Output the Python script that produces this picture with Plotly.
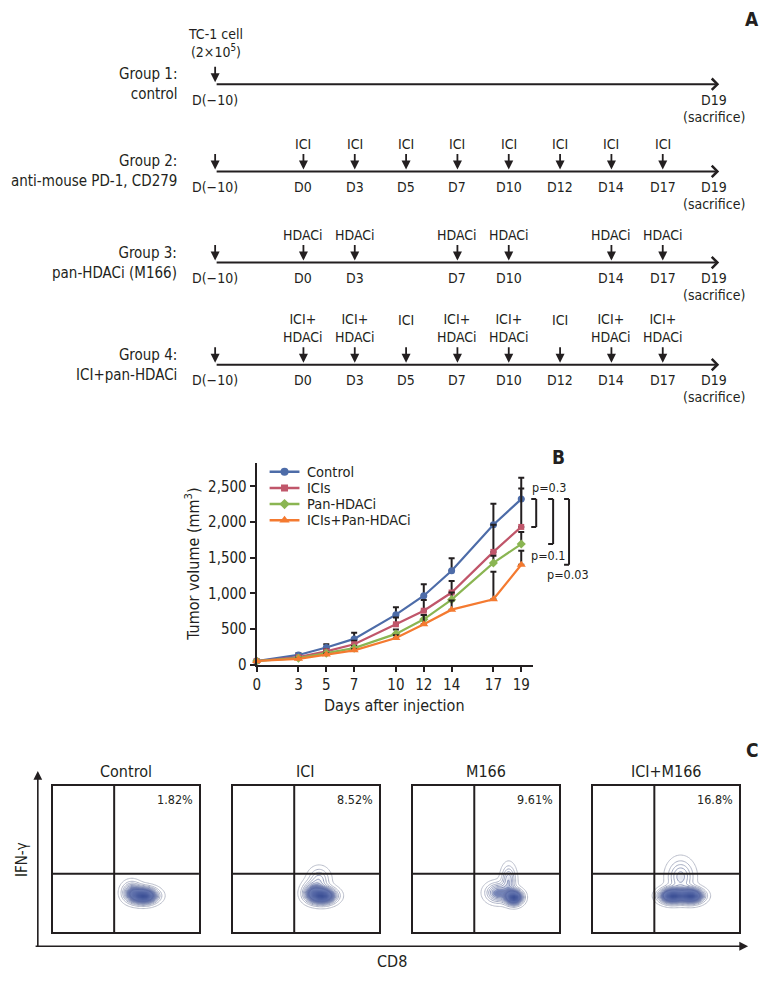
import numpy as np
import plotly.graph_objects as go

W, H = 767, 985
FONT = "Liberation Sans Narrow, Arial Narrow, DejaVu Sans Condensed, sans-serif"
TXT = "#231f20"


def px(x):
    return x / W


def py(y):
    return 1 - y / H


# ---------------- Panel A data ----------------
timeline_labels = ["D(−10)", "D0", "D3", "D5", "D7", "D10", "D12", "D14", "D17", "D19"]
group_titles = ["Group 1:<br>control", "Group 2:<br>anti-mouse PD-1, CD279",
                "Group 3:<br>pan-HDACi (M166)", "Group 4:<br>ICI+pan-HDACi"]
g1_treatments = {"D(−10)": "TC-1 cell<br>(2×10<sup>5</sup>)"}
g2_treatments = {"D0": "ICI", "D3": "ICI", "D5": "ICI", "D7": "ICI",
                 "D10": "ICI", "D12": "ICI", "D14": "ICI", "D17": "ICI"}
g3_treatments = {"D0": "HDACi", "D3": "HDACi", "D7": "HDACi",
                 "D10": "HDACi", "D14": "HDACi", "D17": "HDACi"}
g4_treatments = {"D0": "ICI+<br>HDACi", "D3": "ICI+<br>HDACi", "D5": "ICI",
                 "D7": "ICI+<br>HDACi", "D10": "ICI+<br>HDACi", "D12": "ICI",
                 "D14": "ICI+<br>HDACi", "D17": "ICI+<br>HDACi"}
group_treatments = [g1_treatments, g2_treatments, g3_treatments, g4_treatments]
end_note = "(sacrifice)"

# ---------------- Panel B data ----------------
days = [0, 3, 5, 7, 10, 12, 14, 17, 19]
series_names = ["Control", "ICIs", "Pan-HDACi", "ICIs+Pan-HDACi"]
control_vol = [50, 135, 240, 360, 700, 965, 1315, 1960, 2320]
icis_vol = [50, 105, 185, 285, 565, 755, 1010, 1580, 1930]
pan_vol = [50, 90, 160, 230, 430, 635, 910, 1425, 1690]
combo_vol = [50, 80, 140, 200, 372, 565, 770, 915, 1400]
control_err = [0, 25, 45, 85, 105, 160, 175, 295, 150]
icis_err = [0, 20, 30, 50, 95, 150, 160, 380, 690]
pan_err = [0, 15, 20, 30, 60, 60, 100, 100, 170]
combo_err = [0, 10, 15, 20, 40, 130, 130, 385, 195]
y_ticks = [0, 500, 1000, 1500, 2000, 2500]
p_labels = ["p=0.3", "p=0.1", "p=0.03"]

# ---------------- Panel C data ----------------
flow_titles = ["Control", "ICI", "M166", "ICI+M166"]
flow_pcts = ["1.82%", "8.52%", "9.61%", "16.8%"]
gate_x, gate_y = 0.42, 0.40
# blob components: (cx, cy, sx, sy, weight)
flow_blobs = [
    [(0.62, 0.25, 0.055, 0.032, 1.0), (0.54, 0.28, 0.04, 0.04, 0.3)],
    [(0.61, 0.25, 0.055, 0.033, 1.0), (0.54, 0.28, 0.04, 0.04, 0.3), (0.59, 0.36, 0.045, 0.05, 0.2)],
    [(0.69, 0.24, 0.035, 0.03, 1.0), (0.58, 0.27, 0.05, 0.04, 0.35), (0.655, 0.36, 0.03, 0.06, 0.25)],
    [(0.54, 0.25, 0.05, 0.03, 0.9), (0.67, 0.25, 0.05, 0.03, 0.9), (0.60, 0.38, 0.055, 0.07, 0.22)],
]

series_values = [control_vol, icis_vol, pan_vol, combo_vol]
series_errors = [control_err, icis_err, pan_err, combo_err]
series_colors = ["#4d6ca8", "#c0566a", "#8ab552", "#f47a30"]
series_symbols = ["circle", "square", "diamond", "triangle-up"]
series_msize = [7, 6, 7, 8]

fig = go.Figure()
ann = []
shapes = []


def text_ann(x, y, text, size=14, xanchor="center", yanchor="middle", **kw):
    d = dict(x=x, y=y, text=text, showarrow=False, xanchor=xanchor, yanchor=yanchor,
             font=dict(size=size, color=TXT, family=FONT))
    d.update(kw)
    d.setdefault("xref", "paper")
    d.setdefault("yref", "paper")
    return d


# ================= Panel A =================
ROW_Y = [85, 173, 265, 368]
LABEL_BOTTOM = [-22, -18, -18, -18]
SLOT0 = 301.0
SLOT_W = 51.6
START_SLOT = -1.72
x2_range = [(0 - SLOT0) / SLOT_W, (W - SLOT0) / SLOT_W]


def slot_of(label):
    i = timeline_labels.index(label)
    return START_SLOT if i == 0 else i - 1


fig.add_trace(go.Scatter(x=[], y=[], xaxis="x2", yaxis="y2", showlegend=False))

for g, (title, treat) in enumerate(zip(group_titles, group_treatments)):
    ly = ROW_Y[g]
    ann.append(text_ann(px(176), ly, title, size=15, xanchor="right", yref="y2", align="right"))
    # main arrow
    ann.append(dict(x=slot_of("D19") + 0.1, y=ly, ax=slot_of("D(−10)"), ay=ly, xref="x2", yref="y2",
                    axref="x2", ayref="y2", text="", showarrow=True, arrowhead=4, arrowsize=1.1,
                    arrowwidth=2, arrowcolor=TXT))
    shown = ["D(−10)"] + [d for d in timeline_labels if d in treat and d != "D(−10)"] + ["D19"]
    for d in shown:
        ann.append(text_ann(slot_of(d), ly + 16, d, size=14, xref="x2", yref="y2"))
    ann.append(text_ann(slot_of("D19"), ly + 33, end_note, size=14, xref="x2", yref="y2"))
    arrows = ["D(−10)"] + [d for d in timeline_labels if d in treat and d != "D(−10)"]
    nmax = max([t.count("<br>") + 1 for t in treat.values()]) if treat else 1
    for d in arrows:
        ann.append(dict(x=slot_of(d), y=ly - 2, xref="x2", yref="y2", text="", showarrow=True,
                        ax=0, ay=-17, arrowhead=2, arrowsize=1.0, arrowwidth=1.8, arrowcolor=TXT))
        if d in treat:
            t = treat[d]
            nl = t.count("<br>") + 1
            ann.append(text_ann(slot_of(d), ly + LABEL_BOTTOM[g], t, size=14, yanchor="bottom",
                                xref="x2", yref="y2", yshift=(nmax - nl) * 17))

ann.append(text_ann(px(752), py(19), "<b>A</b>", size=19))

# ================= Panel B =================
for name, vals, errs, color, sym, ms in zip(series_names, series_values, series_errors,
                                            series_colors, series_symbols, series_msize):
    fig.add_trace(go.Scatter(
        x=days, y=vals, mode="lines+markers", name=name, showlegend=False, cliponaxis=False,
        line=dict(color=color, width=2.2), marker=dict(symbol=sym, size=ms, color=color),
        error_y=dict(type="data", array=errs, arrayminus=[0] * len(errs), symmetric=False,
                     color=TXT, thickness=2, width=3),
        xaxis="x", yaxis="y"))

# manual legend
for i, (name, color, sym, ms) in enumerate(zip(series_names, series_colors, series_symbols, series_msize)):
    fig.add_trace(go.Scatter(x=[5, 35], y=[i, i], mode="lines", line=dict(color=color, width=2.5),
                             xaxis="x7", yaxis="y7", showlegend=False, hoverinfo="skip"))
    fig.add_trace(go.Scatter(x=[20], y=[i], mode="markers", marker=dict(symbol=sym, size=ms + 1, color=color),
                             xaxis="x7", yaxis="y7", showlegend=False, hoverinfo="skip"))
    ann.append(text_ann(42, i, name, size=14.5, xanchor="left", xref="x7", yref="y7", borderpad=0))

# brackets
ends = [icis_vol[-1], pan_vol[-1], combo_vol[-1]]
bx = [535, 552, 568]
for k, (b, e) in enumerate(zip(bx, ends)):
    top = control_vol[-1]
    shapes.append(dict(type="line", xref="paper", yref="y", x0=px(b), x1=px(b), y0=top, y1=e,
                       line=dict(color=TXT, width=2)))
    for yy in (top, e):
        shapes.append(dict(type="line", xref="paper", yref="y", x0=px(b - 5), x1=px(b), y0=yy, y1=yy,
                           line=dict(color=TXT, width=2)))
ann.append(text_ann(px(529), control_vol[-1], p_labels[0], size=12.5, xanchor="left", yref="y", yshift=12))
ann.append(text_ann(px(547), pan_vol[-1], p_labels[1], size=12.5, yref="y", yshift=-11))
ann.append(text_ann(px(567), combo_vol[-1], p_labels[2], size=12.5, yref="y", yshift=-10))

ann.append(text_ann(px(190), py(570), "Tumor volume (mm<sup>3</sup>)", size=16, textangle=-90))
ann.append(text_ann(px(393), py(712), "Days after injection", size=16))
ann.append(text_ann(px(557), py(461), "<b>B</b>", size=19))

# ================= Panel C =================
grid = np.linspace(0, 1, 121)
GX, GY = np.meshgrid(grid, grid)
BOX_L = [49, 230, 411, 592]
BOX_W = 147
BOX_TOP, BOX_BOT = 793, 941

for k in range(4):
    ax_id = k + 3
    xa, ya = f"x{ax_id}", f"y{ax_id}"
    z = np.zeros_like(GX)
    for cx, cy, sx, sy, w in flow_blobs[k]:
        z += w * np.exp(-0.5 * (((GX - cx) / sx) ** 2 + ((GY - cy) / sy) ** 2))
    z = z / z.max()
    fig.add_trace(go.Contour(x=grid, y=grid, z=z, zmin=0, zmax=1, showscale=False,
                             contours=dict(coloring="lines", start=0.025, end=0.5, size=0.045),
                             line=dict(width=1),
                             colorscale=[[0, "#b9bdca"], [0.3, "#98a0bd"], [1, "#5a6aa5"]],
                             xaxis=xa, yaxis=ya, hoverinfo="skip"))
    fig.add_trace(go.Heatmap(x=grid, y=grid, z=z, zmin=0, zmax=1, zsmooth="best", showscale=False,
                             colorscale=[[0, "rgba(255,255,255,0)"], [0.17, "rgba(255,255,255,0)"],
                                         [0.3, "rgba(85,104,168,0.8)"], [1, "rgba(60,80,150,1)"]],
                             xaxis=xa, yaxis=ya, hoverinfo="skip"))
    shapes.append(dict(type="line", xref=xa, yref=ya, x0=gate_x, x1=gate_x, y0=0, y1=1,
                       line=dict(color=TXT, width=2)))
    shapes.append(dict(type="line", xref=xa, yref=ya, x0=0, x1=1, y0=gate_y, y1=gate_y,
                       line=dict(color=TXT, width=2)))
    ann.append(text_ann(0.5, 1, flow_titles[k], size=16, yanchor="bottom", xref=xa, yref=ya, yshift=3))
    ann.append(text_ann(0.975, 0.97, flow_pcts[k], size=12.5, xanchor="right", yanchor="top",
                        xref=xa, yref=ya))

# CD8 / IFN-g axes arrows
ann.append(dict(x=px(34), y=py(778), xref="paper", yref="paper", ax=0, ay=177, text="", showarrow=True,
                arrowhead=2, arrowsize=1.1, arrowwidth=1.6, arrowcolor=TXT))
ann.append(dict(x=px(748), y=py(955), xref="paper", yref="paper", ax=-714, ay=0, text="", showarrow=True,
                arrowhead=2, arrowsize=1.1, arrowwidth=1.6, arrowcolor=TXT))
ann.append(text_ann(px(18), py(867), "IFN-γ", size=15, textangle=-90))
ann.append(text_ann(px(390), py(970), "CD8", size=16))
ann.append(text_ann(px(752), py(757), "<b>C</b>", size=19))

hidden = dict(visible=False, showgrid=False, zeroline=False, fixedrange=True)
layout = dict(
    width=W, height=H, margin=dict(l=0, r=0, t=0, b=0),
    paper_bgcolor="white", plot_bgcolor="rgba(0,0,0,0)",
    font=dict(family=FONT, color=TXT, size=14),
    showlegend=False, hovermode=False,
    annotations=ann, shapes=shapes,
    xaxis=dict(domain=[px(254), px(532)], range=[0, 19.86], tickvals=days, ticks="outside", ticklen=5,
               tickwidth=2, tickcolor=TXT, showline=True, linewidth=2, linecolor=TXT, showgrid=False,
               zeroline=False, tickfont=dict(size=15, family=FONT, color=TXT), anchor="y"),
    yaxis=dict(domain=[py(670.7), py(467)], range=[0, 2830], tickvals=y_ticks, tickformat=",",
               ticks="outside", ticklen=5, tickwidth=2, tickcolor=TXT, showline=True, linewidth=2,
               linecolor=TXT, showgrid=False, zeroline=False,
               tickfont=dict(size=15, family=FONT, color=TXT), anchor="x"),
    xaxis2=dict(domain=[0, 1], range=x2_range, anchor="y2", **hidden),
    yaxis2=dict(domain=[0, 1], range=[H, 0], anchor="x2", **hidden),
    xaxis7=dict(domain=[px(262), px(420)], range=[0, 158], anchor="y7", **hidden),
    yaxis7=dict(domain=[py(533.2), py(468)], range=[3.5, -0.5], anchor="x7", **hidden),
)
for k in range(4):
    ax_id = k + 3
    L = BOX_L[k]
    frame = dict(range=[0, 1], showline=True, mirror=True, linewidth=2, linecolor=TXT, showgrid=False,
                 zeroline=False, showticklabels=False, ticks="", fixedrange=True)
    layout[f"xaxis{ax_id}"] = dict(domain=[px(L), px(L + BOX_W)], anchor=f"y{ax_id}", **frame)
    layout[f"yaxis{ax_id}"] = dict(domain=[py(BOX_BOT), py(BOX_TOP)], anchor=f"x{ax_id}", **frame)

fig.update_layout(**layout)
fig.write_html("out.html", config={"displayModeBar": False, "staticPlot": True},
               post_script="document.body.style.margin='0px';")
